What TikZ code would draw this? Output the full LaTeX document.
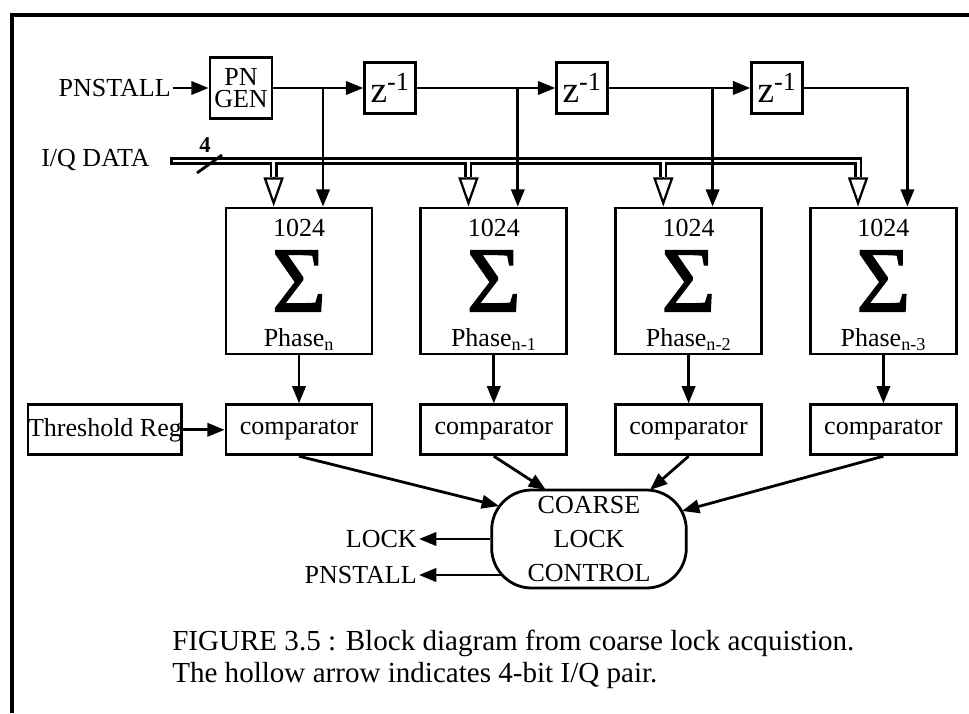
\documentclass[tikz,border=0pt]{standalone}
\usepackage{fontspec}
\setmainfont{Liberation Serif}
\newfontface\sigmaface[FakeBold=1.4]{Liberation Serif}
\usetikzlibrary{arrows.meta,positioning,shapes.geometric}

\begin{document}
\begin{tikzpicture}[
  x=0.75pt, y=-0.75pt,
  node distance=36pt and 34.5pt,
  font=\fontsize{19.5}{21}\selectfont,
  txt/.style={inner sep=1.5pt},
  block/.style={draw, line width=2.1pt, inner sep=0pt, align=center},
  sumbox/.style={block, minimum width=109.5pt, minimum height=109.5pt,
    font=\sigmaface\fontsize{70}{70}\selectfont,
    label={[font=\fontsize{19.5}{21}\selectfont, inner sep=0pt, anchor=north, yshift=-9pt]north:1024},
    label={[font=\fontsize{19.5}{21}\selectfont, inner sep=0pt, anchor=base, yshift=6.5pt]south:Phase\textsubscript{#1}}},
  cmpbox/.style={block, minimum width=109.5pt, minimum height=37.5pt},
  delay/.style={block, minimum width=38pt, minimum height=38pt, font=\fontsize{28}{28}\selectfont},
  line/.style={-{Triangle[length=13pt,width=10pt]}, line width=2.1pt},
  busout/.style={line width=6pt},
  busin/.style={line width=2.2pt, white},
  hollow/.style={-{Triangle[open,length=22pt,width=15pt]}, line width=1.7pt}
]
\useasboundingbox (0,0) rectangle (969,713);
\draw[line width=2.3pt] (12,713) -- (12,15) -- (969,15);

% inputs and delay line
\node[txt, anchor=east] (pnin) at (173,88) {PNSTALL};
\node[block, minimum width=46.5pt, minimum height=45.75pt, font=\fontsize{19.5}{17}\selectfont] (pngen) at (241,88) {PN\\GEN};
\node[delay] (z1) at (390,88) {z\textsuperscript{-1}};
\node[delay] (z2) at (582,88) {z\textsuperscript{-1}};
\node[delay] (z3) at (777,88) {z\textsuperscript{-1}};
\node[txt, anchor=east] (iqdata) at (152,160) {I/Q DATA};
\coordinate (iqin) at (170,161);
\node[txt, font=\fontsize{17}{17}\bfseries\selectfont] (buswidth) at (205,145) {4};

% accumulators and comparators
\node[sumbox=n] (sum1) at (299,281) {Σ};
\node[sumbox=n-1, right=of sum1] (sum2) {Σ};
\node[sumbox=n-2, right=of sum2] (sum3) {Σ};
\node[sumbox=n-3, right=of sum3] (sum4) {Σ};
\node[cmpbox, below=of sum1] (cmp1) {comparator};
\node[cmpbox, below=of sum2] (cmp2) {comparator};
\node[cmpbox, below=of sum3] (cmp3) {comparator};
\node[cmpbox, below=of sum4] (cmp4) {comparator};
\node[cmpbox, left=31pt of cmp1, minimum width=111pt] (thresh) {Threshold Reg};

% lock control
\node[block, rounded corners=30pt, minimum width=146pt, minimum height=73.5pt, font=\fontsize{19.5}{25.5}\selectfont] (ctrl) at (589,539) {COARSE\\LOCK\\CONTROL};
\node[txt, anchor=east] (lockout) at (419,539) {LOCK};
\node[txt, anchor=east] (pnout) at (419,575) {PNSTALL};

\node[anchor=north west, align=left, inner sep=0pt, font=\fontsize{21.8}{24}\selectfont] (caption) at (172,630) {FIGURE 3.5 : Block diagram from coarse lock acquistion.\\The hollow arrow indicates 4-bit I/Q pair.};

\coordinate (tap1) at ([xshift=18pt]sum1.north);
\coordinate (tap2) at ([xshift=18pt]sum2.north);
\coordinate (tap3) at ([xshift=18pt]sum3.north);
\coordinate (tap4) at ([xshift=18pt]sum4.north);
\coordinate (hol1) at ([xshift=-19pt]sum1.north);
\coordinate (hol2) at ([xshift=-19pt]sum2.north);
\coordinate (hol3) at ([xshift=-19pt]sum3.north);
\coordinate (hol4) at ([xshift=-19pt]sum4.north);

% I/Q bus, drawn black first and hollowed out after
\draw[busout] (iqin) -- (iqin -| hol4) -- ([yshift=22.5pt]hol4);
\draw[busout] (iqin -| hol1) -- ([yshift=22.5pt]hol1);
\draw[busout] (iqin -| hol2) -- ([yshift=22.5pt]hol2);
\draw[busout] (iqin -| hol3) -- ([yshift=22.5pt]hol3);
\draw[busin, shorten <=2.5pt] (iqin) -- (iqin -| hol4) -- ([yshift=22.5pt]hol4);
\draw[busin] (iqin -| hol1) -- ([yshift=22.5pt]hol1);
\draw[busin] (iqin -| hol2) -- ([yshift=22.5pt]hol2);
\draw[busin] (iqin -| hol3) -- ([yshift=22.5pt]hol3);
\draw[hollow] ([yshift=22.5pt]hol1) -- (hol1);
\draw[hollow] ([yshift=22.5pt]hol2) -- (hol2);
\draw[hollow] ([yshift=22.5pt]hol3) -- (hol3);
\draw[hollow] ([yshift=22.5pt]hol4) -- (hol4);
\draw[line width=2.1pt] ([shift={(27,12)}]iqin) -- ([shift={(52,-6)}]iqin);

\draw[line] (pnin) -- (pngen);
\draw[line] (pngen) -- (z1);
\draw[line] (z1) -- (z2);
\draw[line] (z2) -- (z3);
\draw[line] (pngen.east -| tap1) -- (tap1);
\draw[line] (z1.east -| tap2) -- (tap2);
\draw[line] (z2.east -| tap3) -- (tap3);
\draw[line] (z3.east) -| (tap4);

\draw[line] (sum1) -- (cmp1);
\draw[line] (sum2) -- (cmp2);
\draw[line] (sum3) -- (cmp3);
\draw[line] (sum4) -- (cmp4);
\draw[line] (thresh) -- (cmp1);
\draw[line] (cmp1.south) -- ([shift={(-90,-33)}]ctrl.center);
\draw[line] (cmp2.south) -- ([shift={(-43,-49)}]ctrl.center);
\draw[line] (cmp3.south) -- ([shift={(61,-49)}]ctrl.center);
\draw[line] (cmp4.south) -- ([shift={(93,-28)}]ctrl.center);
\draw[line] (ctrl.west) -- (lockout);
\draw[line] ([shift={(-87,36)}]ctrl.center) -- (pnout);
\end{tikzpicture}
\end{document}
